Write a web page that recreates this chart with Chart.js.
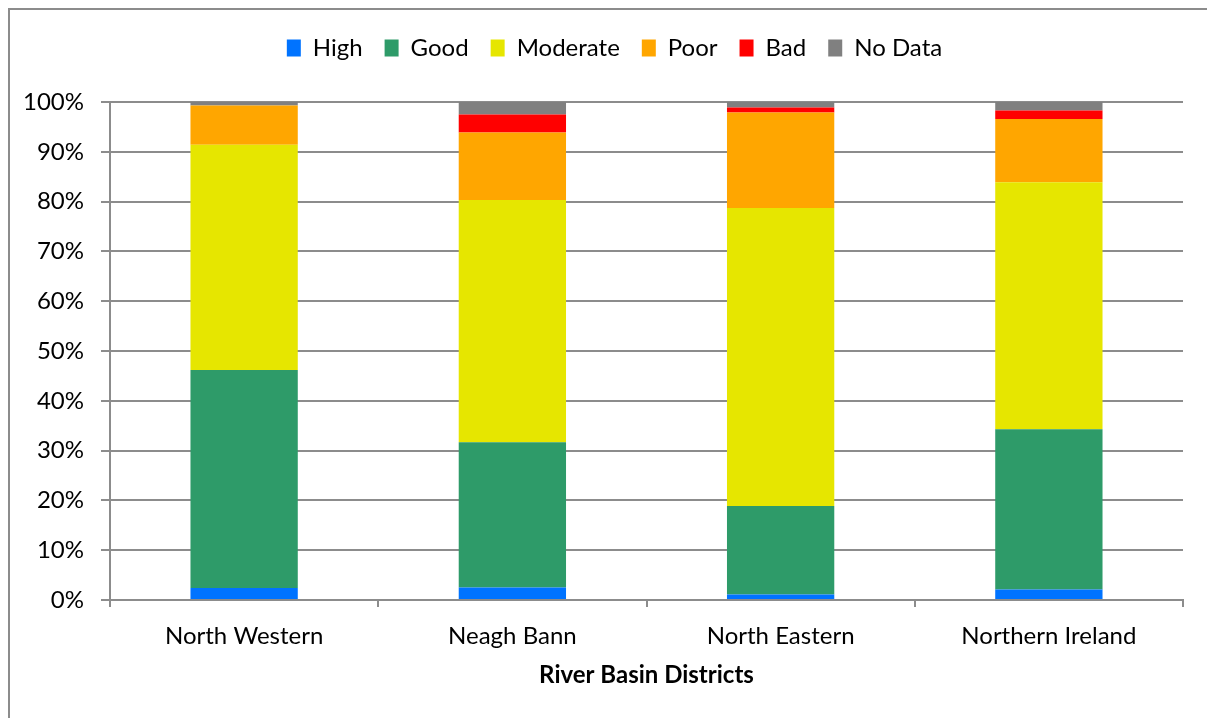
<!DOCTYPE html>
<html>
<head>
<meta charset="utf-8">
<script src="https://cdn.jsdelivr.net/npm/chart.js@4.4.1/dist/chart.umd.min.js"></script>
<style>
  html, body { margin: 0; padding: 0; background: #fff; }
  #wrap { width: 1207px; height: 718px; }
</style>
</head>
<body>
<div id="wrap"><canvas id="chart" width="1207" height="718"></canvas></div>
<script>
const districts = ['North Western', 'Neagh Bann', 'North Eastern', 'Northern Ireland'];
const high = [2.4, 2.5, 1.1, 2.1];
const good = [43.8, 29.2, 17.8, 32.2];
const moderate = [45.2, 48.6, 59.8, 49.6];
const poor = [7.9, 13.6, 19.2, 12.7];
const bad = [0.0, 3.6, 1.0, 1.7];
const noData = [0.7, 2.5, 1.1, 1.7];
const yTicks = [0, 10, 20, 30, 40, 50, 60, 70, 80, 90, 100];

const FONT = 'Lato, "Open Sans", sans-serif';
const GRID = '#8c8c8c';

function series(label, data, color) {
  return {
    label: label,
    data: data,
    backgroundColor: color,
    borderWidth: 0,
    barPercentage: 0.8,
    categoryPercentage: 0.5
  };
}

new Chart(document.getElementById('chart').getContext('2d'), {
  type: 'bar',
  data: {
    labels: districts,
    datasets: [
      series('High', high, '#0073ff'),
      series('Good', good, '#2e9b69'),
      series('Moderate', moderate, '#e6e600'),
      series('Poor', poor, '#ffa600'),
      series('Bad', bad, '#ff0000'),
      series('No Data', noData, '#808080')
    ]
  },
  options: {
    responsive: false,
    animation: false,
    layout: { padding: { top: 14, right: 24, bottom: 28, left: 0 } },
    scales: {
      x: {
        stacked: true,
        offset: true,
        border: { display: true, color: GRID, width: 2 },
        grid: { offset: true, drawOnChartArea: false, drawTicks: true, tickLength: 7, color: GRID, lineWidth: 2 },
        ticks: { color: '#000', padding: 15, font: { family: FONT, size: 24 } },
        title: {
          display: true,
          text: 'River Basin Districts',
          color: '#000',
          padding: { top: 8, bottom: 0 },
          font: { family: FONT, size: 24, weight: 'bold' }
        },
        afterFit: s => { s.height = 90; }
      },
      y: {
        stacked: true,
        min: 0,
        max: 100,
        afterBuildTicks: s => { s.ticks = yTicks.map(v => ({ value: v })); },
        border: { display: true, color: GRID, width: 2 },
        grid: { color: GRID, lineWidth: 2, tickLength: 9 },
        ticks: {
          color: '#000',
          padding: 17,
          font: { family: FONT, size: 24 },
          callback: v => v + '%'
        },
        afterFit: s => { s.width = 110; }
      }
    },
    plugins: {
      legend: {
        position: 'top',
        labels: {
          color: '#000',
          boxWidth: 14,
          boxHeight: 17,
          padding: 22,
          font: { family: FONT, size: 24 }
        }
      },
      tooltip: { enabled: false }
    }
  },
  plugins: [
    {
      // push the plot area down below the legend, and centre legend on the page
      id: 'legendGap',
      beforeInit: (chart) => {
        const fit = chart.legend.fit;
        chart.legend.fit = function () {
          fit.call(this);
          this.height += 32;
        };
      },
      afterLayout: (chart) => {
        chart.legend.left += 23;
        chart.legend.right += 23;
      }
    },
    {
      id: 'frameBox',
      beforeDraw: (chart) => {
        const { ctx } = chart;
        ctx.save();
        ctx.strokeStyle = '#8c8c8c';
        ctx.lineWidth = 2;
        ctx.strokeRect(9, 9, 1400, 1000);
        ctx.restore();
      }
    }
  ]
});
</script>
</body>
</html>
